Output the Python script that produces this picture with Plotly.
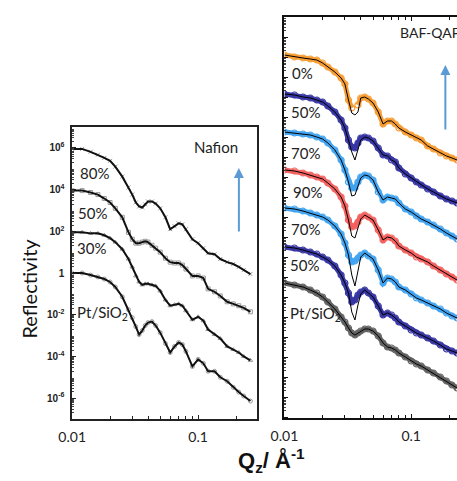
import numpy as np
import plotly.graph_objects as go

W, H = 457, 481

# ---------------- Left panel: Nafion ----------------
q_left = [0.010, 0.012, 0.014, 0.016, 0.018, 0.020, 0.022, 0.025, 0.028, 0.030,
          0.032, 0.034, 0.036, 0.038, 0.040, 0.043, 0.046, 0.050, 0.055, 0.060,
          0.065, 0.070, 0.075, 0.080, 0.090, 0.100, 0.110, 0.120, 0.135, 0.150,
          0.170, 0.190, 0.210, 0.230, 0.260]
# log10(reflectivity), curves offset vertically
nafion80_log = [5.95, 5.95, 5.81, 5.67, 5.52, 5.38, 5.10, 4.62, 4.10, 3.76,
                3.38, 3.19, 3.14, 3.29, 3.43, 3.43, 3.33, 3.10, 2.67, 2.10,
                2.24, 2.38, 2.33, 2.10, 1.62, 1.43, 1.19, 0.95, 0.90, 0.67,
                0.52, 0.43, 0.29, 0.14, -0.05]
nafion50_log = [3.95, 3.95, 3.86, 3.76, 3.57, 3.38, 3.10, 2.67, 1.95, 1.62,
                1.43, 1.43, 1.48, 1.52, 1.48, 1.33, 1.19, 1.00, 0.71, 0.52,
                0.48, 0.48, 0.38, 0.19, -0.14, -0.14, -0.24, -0.76, -0.90, -1.10,
                -1.38, -1.48, -1.57, -1.67, -1.86]
nafion30_log = [1.95, 1.95, 1.90, 1.90, 1.81, 1.67, 1.48, 1.14, 0.67, 0.29,
                -0.14, -0.43, -0.57, -0.52, -0.52, -0.57, -0.62, -0.86, -1.29, -1.57,
                -1.52, -1.48, -1.57, -1.81, -2.24, -2.10, -2.29, -2.71, -2.95, -3.14,
                -3.52, -3.67, -3.81, -4.00, -4.19]
pt_left_log = [0.00, 0.00, -0.10, -0.19, -0.29, -0.43, -0.67, -1.14, -1.76, -2.14,
               -2.57, -2.95, -2.76, -2.52, -2.38, -2.33, -2.52, -2.86, -3.38, -3.81,
               -3.52, -3.33, -3.43, -3.76, -4.48, -4.14, -4.33, -4.71, -4.71, -5.00,
               -5.19, -5.48, -5.71, -5.90, -6.14]
left_labels = ["80%", "50%", "30%", "Pt/SiO<sub>2</sub>"]

# ---------------- Right panel: BAF-QAF ----------------
q_right = [0.010, 0.012, 0.014, 0.016, 0.018, 0.020, 0.022, 0.025, 0.028, 0.030,
           0.032, 0.034, 0.036, 0.038, 0.040, 0.043, 0.046, 0.050, 0.055, 0.060,
           0.065, 0.070, 0.075, 0.080, 0.090, 0.100, 0.110, 0.120, 0.135, 0.150,
           0.170, 0.190, 0.210, 0.230]
baf0_data = [8.10, 8.00, 7.95, 7.90, 7.85, 7.70, 7.50, 7.25, 6.95, 6.65,
             5.85, 5.45, None, 5.60, 5.95, 6.00, 5.90, 5.70, 5.25, 4.65,
             4.80, 4.80, 4.65, 4.45, 4.25, 4.10, 3.95, 3.85, 3.55, 3.40,
             3.20, 3.05, 2.95, 2.85]
baf0_fit = [8.10, 8.00, 7.95, 7.90, 7.85, 7.70, 7.50, 7.25, 6.95, 6.65,
            5.85, 5.20, 5.10, 5.25, 5.95, 6.00, 5.90, 5.70, 5.25, 4.65,
            4.80, 4.80, 4.65, 4.45, 4.25, 4.10, 3.95, 3.85, 3.55, 3.40,
            3.20, 3.05, 2.95, 2.85]
baf50a_data = [6.15, 6.10, 6.00, 5.95, 5.85, 5.75, 5.55, 5.25, 4.85, 4.45,
               3.85, 3.50, 3.45, 3.70, 3.95, 4.00, 3.95, 3.80, 3.45, 3.10,
               3.05, 2.85, 2.75, 2.45, 2.15, 1.95, 1.75, 1.60, 1.40, 1.25,
               1.05, 0.90, 0.80, 0.70]
baf50a_fit = [6.15, 6.10, 6.00, 5.95, 5.85, 5.75, 5.55, 5.25, 4.85, 4.45,
              3.85, 3.25, 2.85, 3.35, 3.85, 4.00, 3.95, 3.80, 3.45, 3.10,
              3.05, 2.85, 2.75, 2.45, 2.15, 1.95, 1.75, 1.60, 1.40, 1.25,
              1.05, 0.90, 0.80, 0.70]
baf70a_data = [4.25, 4.20, 4.15, 4.10, 4.00, 3.90, 3.70, 3.35, 2.85, 2.35,
               1.75, 1.45, 1.45, 1.75, 2.00, 2.10, 2.05, 1.85, 1.25, 0.85,
               1.00, 0.95, 0.90, 0.70, 0.40, 0.25, 0.05, -0.10, -0.25, -0.40,
               -0.60, -0.80, -0.95, -1.10]
baf70a_fit = [4.25, 4.20, 4.15, 4.10, 4.00, 3.90, 3.70, 3.35, 2.85, 2.35,
              1.75, 1.05, 1.10, 1.60, 1.95, 2.10, 2.05, 1.85, 1.25, 0.85,
              1.00, 0.95, 0.90, 0.70, 0.40, 0.25, 0.05, -0.10, -0.25, -0.40,
              -0.60, -0.80, -0.95, -1.10]
baf90_data = [2.35, 2.30, 2.20, 2.10, 2.00, 1.90, 1.70, 1.40, 1.00, 0.55,
              -0.15, -0.50, -0.45, -0.25, 0.00, 0.10, 0.00, -0.15, -0.65, -1.15,
              -1.00, -1.05, -1.20, -1.45, -1.65, -1.80, -2.00, -2.10, -2.25, -2.45,
              -2.65, -2.85, -3.00, -3.15]
baf90_fit = [2.35, 2.30, 2.20, 2.10, 2.00, 1.90, 1.70, 1.40, 1.00, 0.55,
             -0.15, -0.95, -1.05, -0.55, -0.10, 0.10, 0.00, -0.15, -0.65, -1.15,
             -1.00, -1.05, -1.20, -1.45, -1.65, -1.80, -2.00, -2.10, -2.25, -2.45,
             -2.65, -2.85, -3.00, -3.15]
baf70b_data = [0.45, 0.40, 0.30, 0.20, 0.10, 0.00, -0.15, -0.45, -0.85, -1.30,
               -1.90, -2.25, -2.20, -2.05, -1.90, -1.80, -1.95, -2.10, -2.65, -3.30,
               -3.05, -3.10, -3.25, -3.50, -3.65, -3.85, -4.05, -4.15, -4.30, -4.45,
               -4.60, -4.80, -4.95, -5.05]
baf70b_fit = [0.45, 0.40, 0.30, 0.20, 0.10, 0.00, -0.15, -0.45, -0.85, -1.30,
              -1.90, -2.90, -3.45, -2.65, -2.00, -1.80, -1.95, -2.10, -2.65, -3.30,
              -3.05, -3.10, -3.25, -3.50, -3.65, -3.85, -4.05, -4.15, -4.30, -4.45,
              -4.60, -4.80, -4.95, -5.05]
baf50b_data = [-1.50, -1.55, -1.65, -1.75, -1.85, -2.00, -2.15, -2.45, -2.90, -3.30,
               -3.80, -4.25, -4.15, -3.90, -3.75, -3.65, -3.80, -4.00, -4.45, -4.90,
               -4.80, -4.90, -5.05, -5.25, -5.45, -5.65, -5.80, -5.90, -6.05, -6.20,
               -6.40, -6.60, -6.70, -6.80]
baf50b_fit = [-1.50, -1.55, -1.65, -1.75, -1.85, -2.00, -2.15, -2.45, -2.90, -3.30,
              -3.80, -4.75, -5.15, -4.40, -3.85, -3.65, -3.80, -4.00, -4.45, -4.90,
              -4.80, -4.90, -5.05, -5.25, -5.45, -5.65, -5.80, -5.90, -6.05, -6.20,
              -6.40, -6.60, -6.70, -6.80]
pt_right_data = [-3.30, -3.40, -3.50, -3.65, -3.80, -4.00, -4.25, -4.60, -5.00, -5.25,
                 -5.55, -5.80, -5.90, -5.80, -5.70, -5.60, -5.60, -5.70, -5.95, -6.30,
                 -6.50, -6.55, -6.65, -6.80, -7.00, -7.20, -7.35, -7.45, -7.65, -7.80,
                 -8.00, -8.20, -8.40, -8.55]
right_labels = ["0%", "50%", "70%", "90%", "70%", "50%", "Pt/SiO<sub>2</sub>"]
right_colors = ["#f7931e", "#23229b", "#2f9cf0", "#f2524f", "#2f9cf0", "#23229b", "#505050"]


def pw(vals):
    return [None if v is None else 10 ** v for v in vals]


fig = go.Figure()

# left panel traces
left_sets = [(nafion80_log, "x-thin-open"), (nafion50_log, "square-open"),
             (nafion30_log, "triangle-up-open"), (pt_left_log, "circle-open")]
for vals, sym in left_sets:
    fig.add_trace(go.Scatter(x=q_left, y=pw(vals), mode="markers",
                             marker=dict(symbol=sym, size=4, color="#9a9a9a",
                                         line=dict(width=1, color="#9a9a9a")),
                             xaxis="x", yaxis="y", showlegend=False, hoverinfo="skip"))
    fig.add_trace(go.Scatter(x=q_left, y=pw(vals), mode="lines",
                             line=dict(color="#111111", width=2),
                             xaxis="x", yaxis="y", showlegend=False))

# right panel traces
right_sets = [(baf0_data, baf0_fit), (baf50a_data, baf50a_fit), (baf70a_data, baf70a_fit),
              (baf90_data, baf90_fit), (baf70b_data, baf70b_fit), (baf50b_data, baf50b_fit),
              (pt_right_data, pt_right_data)]
for (dat, fit), col in zip(right_sets, right_colors):
    fig.add_trace(go.Scatter(x=q_right, y=pw(dat), mode="lines+markers",
                             line=dict(color=col, width=5),
                             marker=dict(symbol="circle-open", size=6, color=col,
                                         line=dict(width=1.2, color=col)),
                             opacity=0.9, connectgaps=False,
                             xaxis="x2", yaxis="y2", showlegend=False))
    fig.add_trace(go.Scatter(x=q_right, y=pw(fit), mode="lines",
                             line=dict(color="#000000", width=1),
                             xaxis="x2", yaxis="y2", showlegend=False))

minor_x = [m * 10 ** e for e in (-2, -1) for m in range(2, 10)]
minor_yl = [m * 10 ** e for e in range(-7, 7) for m in range(2, 10)]
minor_yr = [m * 10 ** e for e in range(-11, 10) for m in range(2, 10)]

axis_font = dict(family="Lato", size=14, color="#222222")

fig.update_layout(
    width=W, height=H, margin=dict(l=0, r=0, t=0, b=0),
    paper_bgcolor="white", plot_bgcolor="white", showlegend=False,
    xaxis=dict(type="log", domain=[60 / W, 251 / W], range=[-2, np.log10(0.295)],
               anchor="y", showline=True, linecolor="#222222", linewidth=1.5, mirror=True,
               showgrid=False, zeroline=False, ticks="inside", ticklen=4, tickcolor="#222222",
               tickvals=[0.01, 0.1], ticktext=["0.01", "0.1"], tickfont=axis_font,
               ticklabelstandoff=4,
               minor=dict(ticks="inside", ticklen=3, tickcolor="#222222", tickvals=minor_x)),
    yaxis=dict(type="log", domain=[1 - 419 / H, 1 - 127 / H], range=[-7, 7],
               anchor="x", showline=True, linecolor="#222222", linewidth=1.5, mirror=True,
               showgrid=False, zeroline=False, ticks="inside", ticklen=4, tickcolor="#222222",
               tickvals=[1e-6, 1e-4, 1e-2, 1, 1e2, 1e4, 1e6],
               ticktext=["<b>10<sup>-6</sup></b>", "<b>10<sup>-4</sup></b>", "<b>10<sup>-2</sup></b>",
                         "<b>1</b>", "<b>10<sup>2</sup></b>", "<b>10<sup>4</sup></b>",
                         "<b>10<sup>6</sup></b>"],
               tickfont=dict(family="Liberation Sans", size=10, color="#222222"),
               ticklabelstandoff=4,
               minor=dict(ticks="inside", ticklen=2, tickcolor="#444444", tickvals=minor_yl)),
    xaxis2=dict(type="log", domain=[279 / W, 1], range=[-2, np.log10(0.23)],
                anchor="y2", showline=True, linecolor="#111111", linewidth=1.5, mirror="allticks",
                showgrid=False, zeroline=False, ticks="inside", ticklen=4, tickcolor="#111111",
                tickvals=[0.01, 0.1], ticktext=["0.01", "0.1"], tickfont=axis_font,
                ticklabelstandoff=4,
                minor=dict(ticks="inside", ticklen=3, tickcolor="#111111", tickvals=minor_x)),
    yaxis2=dict(type="log", domain=[1 - 418 / H, 1 - 17 / H], range=[-10.05, 10],
                anchor="x2", showline=True, linecolor="#111111", linewidth=1.5, mirror=False,
                showgrid=False, zeroline=False, ticks="inside", ticklen=4, tickcolor="#111111",
                tickvals=[10.0 ** k for k in range(-10, 11)], showticklabels=False,
                minor=dict(ticks="inside", ticklen=2, tickcolor="#444444", tickvals=minor_yr)),
)

ann = []
txt_font = dict(family="Lato", size=15, color="#222222")


def add_text(text, px, py, anchor="left", font=txt_font, angle=0):
    ann.append(dict(text=text, x=px / W, y=1 - py / H, xref="paper", yref="paper",
                    xanchor=anchor, yanchor="middle", showarrow=False, font=font,
                    textangle=angle))


# left labels
for lab, (px, py) in zip(left_labels, [(66, 173), (64, 213), (63, 248), (63, 313)]):
    add_text(lab, px, py)
add_text("Nafion", 208, 147, anchor="center")
# right labels
for lab, (px, py) in zip(right_labels, [(285, 73), (284, 112), (284, 153), (286, 192),
                                        (284, 229), (283, 265), (283, 314)]):
    add_text(lab, px, py)
add_text("BAF-QAF", 396, 33, font=dict(family="Lato", size=14, color="#222222"))
add_text("Reflectivity", 15, 289, anchor="center",
         font=dict(family="Lato", size=20, color="#111111"), angle=-90)
add_text("<b>Q<sub>z</sub>/ Å<sup>-1</sup></b>", 266, 460, anchor="center",
         font=dict(family="Liberation Sans", size=22, color="#111111"))

# arrows
for px, head, tail in [(232, 168, 233), (445, 65, 131)]:
    ann.append(dict(x=px / W, y=1 - head / H, xref="paper", yref="paper", text="",
                    showarrow=True, arrowhead=2, arrowsize=1, arrowwidth=2,
                    arrowcolor="#5b9bd5", ax=0, ay=tail - head))

fig.update_layout(annotations=ann)
fig.write_html("out.html", config={"displayModeBar": False},
               post_script="document.body.style.margin='0px';document.body.style.overflow='hidden';")
